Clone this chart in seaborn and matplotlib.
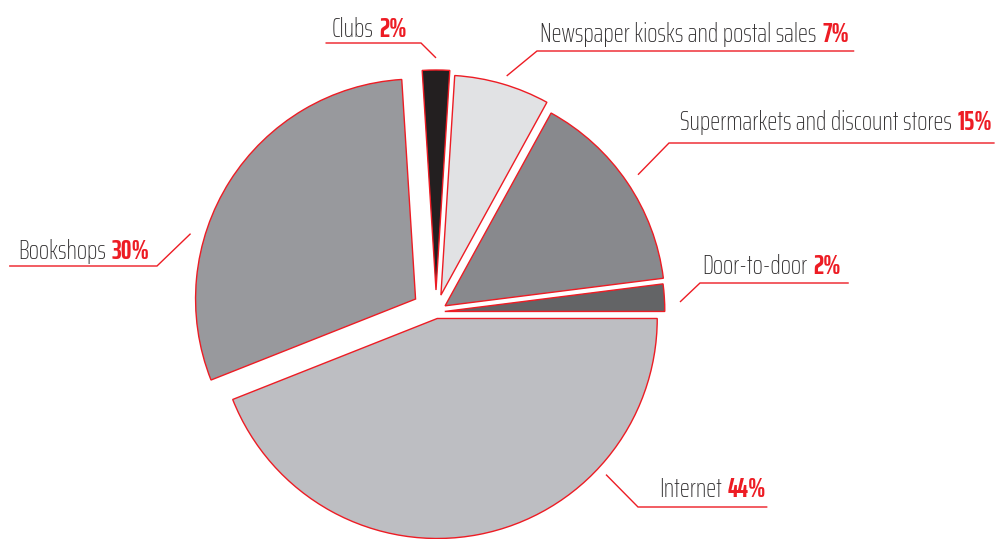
import matplotlib
matplotlib.use("Agg")
import matplotlib.pyplot as plt
import seaborn as sns
import numpy as np
from matplotlib import font_manager as fm
from matplotlib.font_manager import FontProperties

# ---------------- data ----------------
channels = ["Internet", "Bookshops", "Clubs",
            "Newspaper kiosks and postal sales",
            "Supermarkets and discount stores", "Door-to-door"]
shares = [44, 30, 2, 7, 15, 2]
pct_labels = [f"{v}%" for v in shares]
colors = ["#bdbec2", "#98999d", "#231f20", "#e1e2e4", "#88898d", "#636466"]

# ---------------- layout ----------------
W, H = 1000, 539
R = 220
center_px = (436, 312)
explode_frac = [0.03, 0.11, 0.10, 0.08, 0.05, 0.04]
label_side = ["right", "left", "left", "right", "right", "right"]
label_x = [659, 150, 407, 540, 680, 702]
text_baseline = [497, 259, 37, 42, 130, 274]
underline_y = [507, 266, 43, 51, 143, 283]
elbow_pad = [21, 7, 14, 3, 11, 2]
end_pad = [1, 9, 6, 5, 2, 8]
leader_frac = [0.73, 0.65, 0.5, 0.48, 0.5, 0.32]
leader_r = [1.045, 1.065, 1.055, 1.04, 1.06, 1.07]

RED = "#ed1c24"
DARK = "#2e2c2d"

sns.set_theme(style="white")

names = {f.name for f in fm.fontManager.ttflist}
FAM = next((n for n in ["Saira ExtraCondensed", "Barlow Condensed", "Saira Condensed",
                        "Roboto Condensed", "Liberation Sans Narrow"] if n in names),
           "DejaVu Sans")
plt.rcParams["font.family"] = [FAM, "DejaVu Sans"]

fig = plt.figure(figsize=(W / 100, H / 100), dpi=100)
ax = fig.add_axes([0, 0, 1, 1])
wedges, _ = ax.pie(shares, colors=colors,
                   explode=[e * R for e in explode_frac],
                   startangle=0, counterclock=False, radius=R,
                   center=(center_px[0], H - center_px[1]),
                   wedgeprops=dict(edgecolor=RED, linewidth=1.0),
                   frame=False)
ax.set_xlim(0, W)
ax.set_ylim(0, H)
ax.set_aspect("equal")
ax.set_axis_off()
fig.canvas.draw()
renderer = fig.canvas.get_renderer()


def fp(size, weight):
    return FontProperties(family=[FAM, "DejaVu Sans"], weight=weight, size=size)


def width_of(s, prop):
    t = ax.text(0, 0, s, fontproperties=prop)
    w = t.get_window_extent(renderer).width
    t.remove()
    return w


GAP = 6
# fit font size so the longest label matches the reference width (~310 px)
ref = width_of(channels[3], fp(20, "light")) + GAP + width_of(pct_labels[3], fp(20, "bold"))
size = min(20.5, 20 * 310 / ref)

for i, w in enumerate(wedges):
    name_fp = fp(size, "light")
    pct_fp = fp(size, "bold")
    nw = width_of(channels[i], name_fp)
    pw = width_of(pct_labels[i], pct_fp)
    by = H - text_baseline[i]
    if label_side[i] == "right":
        left = label_x[i]
        right = left + nw + GAP + pw
    else:
        right = label_x[i]
        left = right - pw - GAP - nw
    ax.text(left, by, channels[i], fontproperties=name_fp, color=DARK,
            ha="left", va="baseline")
    ax.text(right, by, pct_labels[i], fontproperties=pct_fp, color=RED,
            ha="right", va="baseline")
    uy = H - underline_y[i]
    if label_side[i] == "right":
        ex, ox = left - elbow_pad[i], right + end_pad[i]
    else:
        ex, ox = right + elbow_pad[i], left - end_pad[i]
    ang = np.deg2rad(w.theta1 + leader_frac[i] * (w.theta2 - w.theta1))
    cx, cy = w.center
    px = cx + leader_r[i] * w.r * np.cos(ang)
    py = cy + leader_r[i] * w.r * np.sin(ang)
    ax.plot([px, ex, ox], [py, uy, uy], color=RED, lw=1.0,
            solid_joinstyle="miter", solid_capstyle="butt")

fig.savefig("out.png", dpi=100)
